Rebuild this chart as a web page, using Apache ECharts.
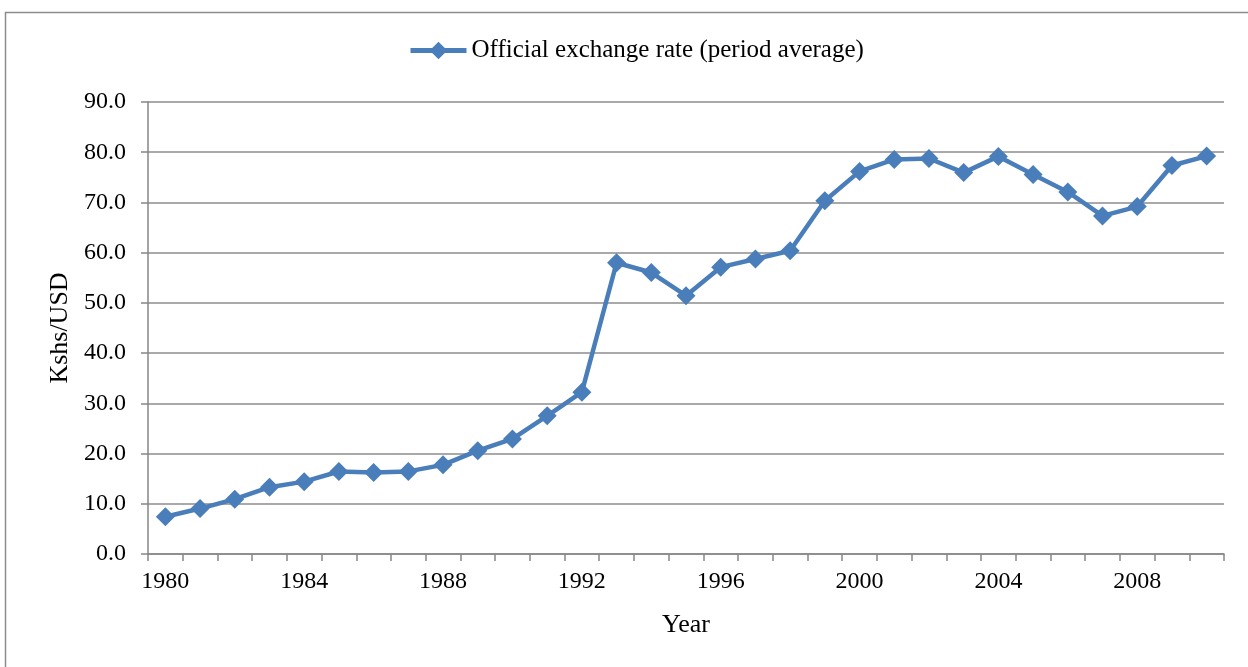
<!DOCTYPE html>
<html><head><meta charset="utf-8">
<script src="https://cdn.jsdelivr.net/npm/echarts@6/dist/echarts.min.js"></script>
<style>html,body{margin:0;padding:0;background:#fff}#c{width:1248px;height:667px}</style>
</head><body><div id="c"></div>
<script>
const years = ['1980','1981','1982','1983','1984','1985','1986','1987','1988','1989','1990','1991','1992','1993','1994','1995','1996','1997','1998','1999','2000','2001','2002','2003','2004','2005','2006','2007','2008','2009','2010'];
const rate = [7.42,9.05,10.92,13.31,14.41,16.43,16.23,16.45,17.75,20.57,22.91,27.51,32.22,58.00,56.05,51.43,57.11,58.73,60.37,70.33,76.18,78.56,78.75,75.94,79.17,75.55,72.10,67.32,69.18,77.35,79.23];
const seriesName = 'Official exchange rate (period average)';
const font = 'Liberation Serif';
const chart = echarts.init(document.getElementById('c'));
chart.setOption({
  animation: false,
  graphic: [{type:'rect', shape:{x:5.5,y:12.5,width:1260,height:700}, style:{fill:'none', stroke:'#8c8c8c', lineWidth:1.5}, silent:true}],
  legend: {top: 33, left: 403, itemWidth: 56, itemHeight: 22, itemGap: 2,
    lineStyle: {width: 5},
    textStyle: {fontFamily: font, fontSize: 25, color: '#000'}, data: [seriesName]},
  grid: {left: 148, right: 24, top: 102, bottom: 113},
  xAxis: {type: 'category', data: years, boundaryGap: true,
    name: 'Year', nameLocation: 'middle', nameGap: 58,
    nameTextStyle: {fontFamily: font, fontSize: 26, color: '#000'},
    axisLine: {lineStyle: {color: '#868686', width: 1.5}},
    axisTick: {show: true, length: 7, interval: 0, lineStyle: {color: '#868686', width: 1.5}},
    axisLabel: {interval: 3, margin: 16, fontFamily: font, fontSize: 24, color: '#000'},
    splitLine: {show: false}},
  yAxis: {type: 'value', min: 0, max: 90, interval: 10,
    name: 'Kshs/USD', nameLocation: 'middle', nameGap: 72,
    nameTextStyle: {fontFamily: font, fontSize: 26, color: '#000'},
    axisLine: {show: true, lineStyle: {color: '#868686', width: 1.5}},
    axisTick: {show: true, length: 7, inside: false, lineStyle: {color: '#868686', width: 1.5}},
    axisLabel: {margin: 22, fontFamily: font, fontSize: 24, color: '#000', formatter: v => v.toFixed(1)},
    splitLine: {show: true, lineStyle: {color: '#8c8c8c', width: 1.5}}},
  series: [{name: seriesName, type: 'line', data: rate, symbol: 'diamond', symbolSize: 19,
    lineStyle: {color: '#4a7ebb', width: 4.5}, itemStyle: {color: '#4a7ebb'}}]
});
</script></body></html>
